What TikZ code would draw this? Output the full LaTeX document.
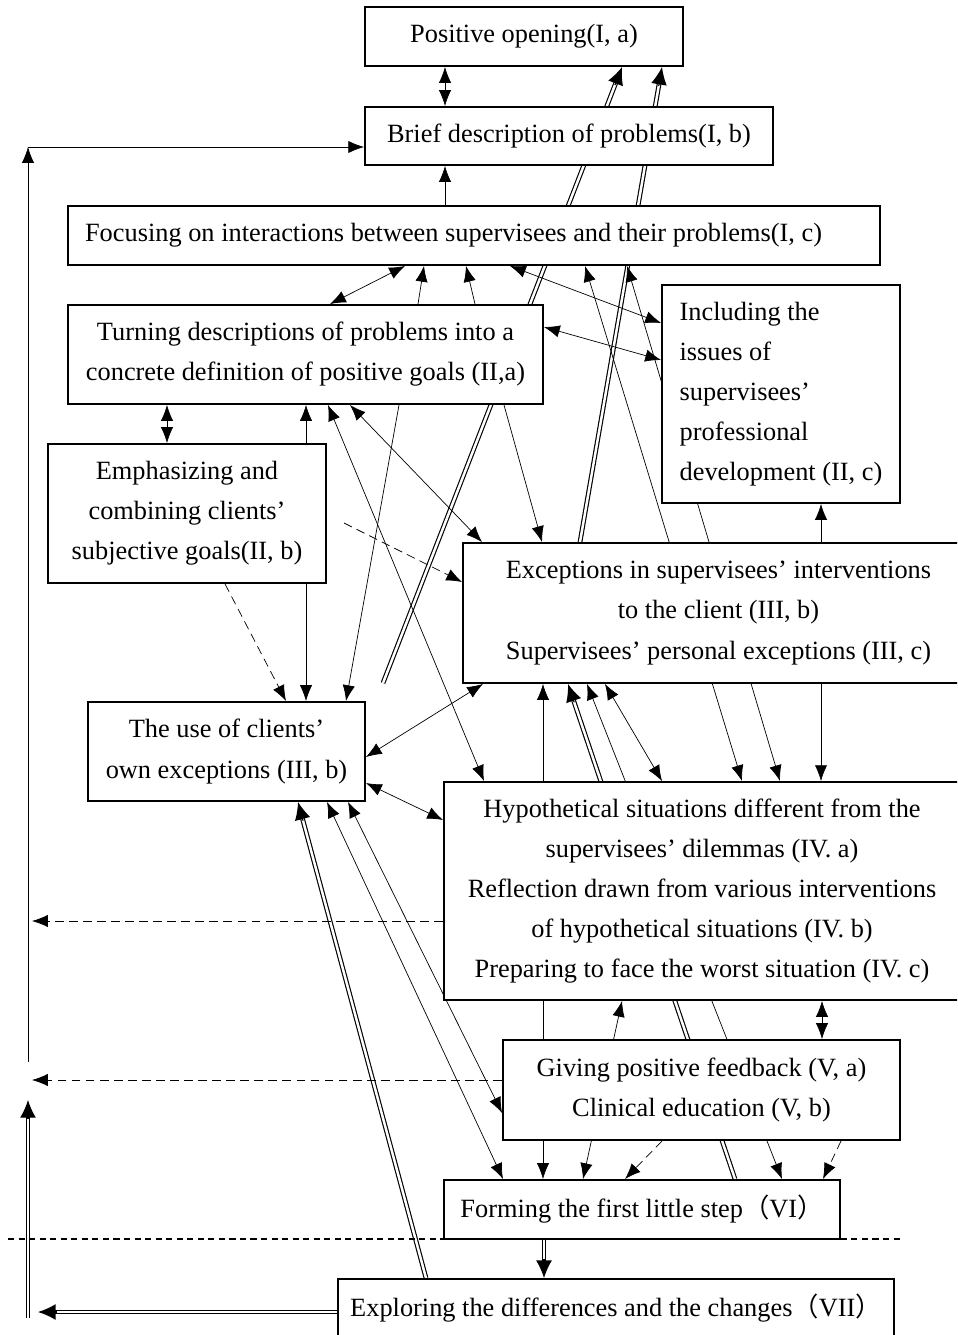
\documentclass[tikz,border=0pt]{standalone}
\usepackage{fontspec}
\setmainfont{Liberation Serif}
\newfontfamily\cjk{Noto Sans CJK SC}
\usetikzlibrary{arrows.meta,calc,backgrounds}

\begin{document}
\begin{tikzpicture}[x=0.02cm, y=-0.02cm, line width=1.1pt,
  box/.style={draw, fill=white, inner sep=0pt, align=center,
    font=\fontsize{15pt}{22.8pt}\selectfont},
  arr/.style={-{Latex[length=9pt,width=7pt]}},
  biarr/.style={{Latex[length=9pt,width=7pt]}-{Latex[length=9pt,width=7pt]}},
  dbl/.style={double, double distance=1.4pt, line width=0.65pt, shorten >=8pt},
  dbltip/.style={-{Latex[length=10pt,width=9pt]}, line width=0.65pt},
  dasharr/.style={arr, dash pattern=on 5pt off 3pt}]

  \path[use as bounding box, clip] (0,0) rectangle (957,1335);

  % boxes
  \node[box, minimum width=6.36cm, minimum height=1.18cm] (open) at (524,36.5) {Positive opening(I, a)};
  \node[box, minimum width=8.16cm, minimum height=1.16cm] (brief) at (569,136) {Brief description of problems(I, b)};
  \node[box, minimum height=1.18cm, text width=15.56cm, inner xsep=0.34cm, align=flush left] (focus) at (474,235.5)
    {Focusing on interactions between supervisees and their problems(I, c)};
  \node[box, minimum width=9.5cm, minimum height=1.98cm] (turn) at (305.5,354.5)
    {Turning descriptions of problems into a\\concrete definition of positive goals (II,a)};
  \node[box, minimum width=4.76cm, minimum height=4.36cm, align=left] (incl) at (781,394)
    {Including the\\issues of\\supervisees’\\professional\\development (II, c)};
  \node[box, minimum width=5.56cm, minimum height=2.78cm] (emph) at (187,513.5)
    {Emphasizing and\\combining clients’\\subjective goals(II, b)};
  \node[box, minimum width=10.22cm, minimum height=2.8cm] (exc) at (718.5,613)
    {Exceptions in supervisees’ interventions\\to the client (III, b)\\Supervisees’ personal exceptions (III, c)};
  \node[box, minimum width=5.54cm, minimum height=1.98cm] (use) at (226.5,751.5)
    {The use of clients’\\own exceptions (III, b)};
  \node[box, minimum width=10.32cm, minimum height=4.36cm] (hyp) at (702,891)
    {Hypothetical situations different from the\\supervisees’ dilemmas (IV. a)\\Reflection drawn from various interventions\\of hypothetical situations (IV. b)\\Preparing to face the worst situation (IV. c)};
  \node[box, minimum width=7.94cm, minimum height=2cm] (give) at (701.5,1090)
    {Giving positive feedback (V, a)\\Clinical education (V, b)};
  \node[box, minimum width=7.92cm, minimum height=1.18cm] (step) at (642,1209.5)
    {Forming the first little step{\cjk （}VI{\cjk ）}};
  \node[box, minimum width=11.12cm, minimum height=1.16cm] (expl) at (616,1308)
    {Exploring the differences and the changes{\cjk （}VII{\cjk ）}};

  % free ends
  \coordinate (corner) at (28,147);
  \coordinate (lbot) at (28,1062);
  \coordinate (dblend) at (383,683);
  \coordinate (dshstart) at (344,523);
  \coordinate (left1) at (32,921);
  \coordinate (left2) at (32,1080);
  \coordinate (lup) at (28,1100);
  \coordinate (ldown) at (28,1318);
  \coordinate (lexp) at (38,1312);

  % double line ends
  \coordinate (o1) at (open.south -| 622,0);
  \coordinate (o2) at (open.south -| 662,0);
  \coordinate (e1) at (exc.south -| 568,0);
  \coordinate (u1) at (use.south -| 298,0);
  \coordinate (x1) at (expl.north -| 544,0);

  \begin{scope}[on background layer]
    % stage I
    \draw[biarr] (open.south -| 445,0) -- (brief.north -| 445,0);
    \draw[arr] (focus.north -| 445,0) -- (brief.south -| 445,0);
    \draw[arr] (lbot) -- (corner);
    \draw[arr] (corner) -- (corner -| brief.west);
    \draw[dbl] (dblend) -- (o1);
    \draw[dbltip] ($(o1)!11pt!(dblend)$) -- (o1);
    \draw[dbl] (exc.north -| 580,0) -- (o2);
    \draw[dbltip] ($(o2)!11pt!(exc.north -| 580,0)$) -- (o2);

    % stage II
    \draw[biarr] (turn.north -| 330,0) -- (focus.south -| 405,0);
    \draw[arr] (turn.north -| 418,0) -- (focus.south -| 424,0);
    \draw[arr] (turn.north -| 475,0) -- (focus.south -| 466,0);
    \draw[biarr] (focus.south -| 510,0) -- (incl.west |- 0,323);
    \draw[biarr] (turn.east |- 0,327) -- (incl.west |- 0,360);
    \draw[biarr] (focus.south -| 585,0) -- (hyp.north -| 742,0);
    \draw[biarr] (focus.south -| 627,0) -- (hyp.north -| 780,0);
    \draw[biarr] (incl.south -| 821,0) -- (hyp.north -| 821,0);
    \draw[biarr] (turn.south -| 167,0) -- (emph.north -| 167,0);
    \draw[biarr] (turn.south -| 306,0) -- (use.north -| 306,0);
    \draw[arr] (turn.south -| 399,0) -- (use.north -| 346,0);
    \draw[biarr] (turn.south -| 328,0) -- (hyp.north -| 484,0);
    \draw[biarr] (turn.south -| 350,0) -- (exc.north -| 482,0);
    \draw[arr] (turn.south -| 504,0) -- (exc.north -| 542,0);
    \draw[dasharr] (emph.south -| 225,0) -- (use.north -| 286,0);
    \draw[dasharr] (dshstart) -- (exc.west |- 0,582);

    % stage III
    \draw[biarr] (use.east |- 0,757) -- (exc.south -| 483,0);
    \draw[biarr] (use.east |- 0,783) -- (hyp.west |- 0,820);
    \draw[dbl] (expl.north -| 426,0) -- (u1);
    \draw[dbltip] ($(u1)!11pt!(expl.north -| 426,0)$) -- (u1);
    \draw[biarr] (use.south -| 327,0) -- (step.north -| 503,0);
    \draw[biarr] (use.south -| 348,0) -- (give.west |- 0,1113);
    \draw[biarr] (exc.south -| 543,0) -- (step.north -| 543,0);
    \draw[dbl] (step.north -| 735,0) -- (e1);
    \draw[dbltip] ($(e1)!11pt!(step.north -| 735,0)$) -- (e1);
    \draw[biarr] (exc.south -| 587,0) -- (step.north -| 782,0);
    \draw[biarr] (exc.south -| 605,0) -- (hyp.north -| 662,0);

    % stages IV and V
    \draw[biarr] (hyp.south -| 622,0) -- (step.north -| 583,0);
    \draw[biarr] (hyp.south -| 822,0) -- (give.north -| 822,0);
    \draw[dasharr] (hyp.west |- 0,921) -- (left1);
    \draw[dasharr] (give.west |- 0,1080) -- (left2);
    \draw[dasharr] (give.south -| 662,0) -- (step.north -| 625,0);
    \draw[dasharr] (give.south -| 841,0) -- (step.north -| 823,0);

    % stages VI and VII
    \draw[dbl] (step.south -| 544,0) -- (x1);
    \draw[dbltip] ($(x1)!11pt!(step.south -| 544,0)$) -- (x1);
    \draw[line width=0.6pt, dash pattern=on 3.5pt off 2.5pt] (8,1239) -- (900,1239);
    \draw[dbl] (ldown) -- (lup);
    \draw[dbltip] ($(lup)!11pt!(ldown)$) -- (lup);
    \draw[dbl] (expl.west |- 0,1312) -- (lexp);
    \draw[dbltip] ($(lexp)!11pt!(expl.west |- 0,1312)$) -- (lexp);
  \end{scope}
\end{tikzpicture}
\end{document}
